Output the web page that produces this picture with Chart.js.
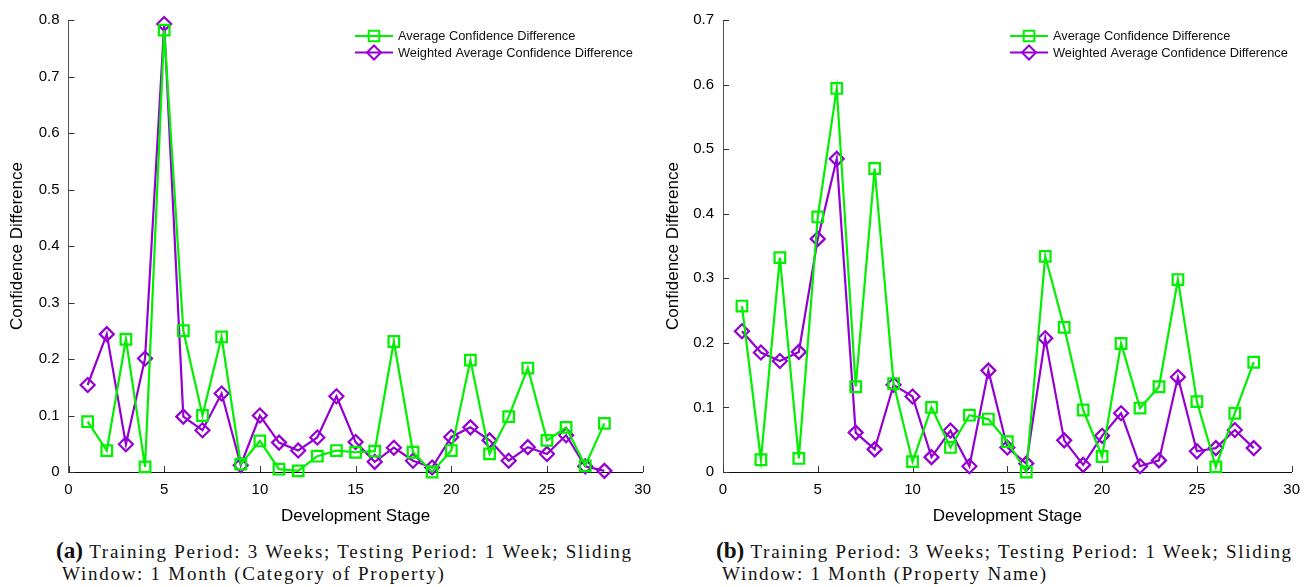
<!DOCTYPE html>
<html><head><meta charset="utf-8">
<script src="https://cdn.jsdelivr.net/npm/chart.js@4/dist/chart.umd.min.js"></script>
<style>
body{margin:0;background:#fff;width:1309px;height:587px;position:relative;overflow:hidden}
.wrap{position:absolute;top:0;height:530px}
#wa{left:0;width:660px}
#wb{left:660px;width:649px}
.cap{position:absolute;font-family:"Liberation Serif","Times New Roman",serif;font-size:19px;line-height:22px;color:#111;white-space:nowrap}
.cap b{font-size:1.22em;letter-spacing:0}
.cap .l2{padding-left:6px}
</style></head><body>
<div class="wrap" id="wa"><canvas id="ca"></canvas></div>
<div class="wrap" id="wb"><canvas id="cb"></canvas></div>
<div class="cap" id="capA" style="left:56px;top:539px"><span class="l1"><b>(a)</b> Training Period: 3 Weeks; Testing Period: 1 Week; Sliding</span><br><span class="l2">Window: 1 Month (Category of Property)</span></div>
<div class="cap" id="capB" style="left:716px;top:539px"><span class="l1"><b>(b)</b> Training Period: 3 Weeks; Testing Period: 1 Week; Sliding</span><br><span class="l2">Window: 1 Month (Property Name)</span></div>
<script>
const stages = [1,2,3,4,5,6,7,8,9,10,11,12,13,14,15,16,17,18,19,20,21,22,23,24,25,26,27,28];
const seriesNames = ["Average Confidence Difference","Weighted Average Confidence Difference"];
const avgA  = [0.089,0.038,0.235,0.009,0.782,0.250,0.100,0.239,0.014,0.055,0.005,0.002,0.028,0.038,0.035,0.037,0.231,0.035,0.000,0.038,0.198,0.032,0.098,0.184,0.056,0.079,0.011,0.086];
const wavgA = [0.154,0.244,0.049,0.201,0.793,0.098,0.074,0.139,0.012,0.100,0.052,0.038,0.061,0.134,0.053,0.018,0.043,0.020,0.008,0.062,0.079,0.056,0.020,0.044,0.032,0.065,0.010,0.002];
const avgB  = [0.257,0.019,0.332,0.021,0.395,0.594,0.132,0.470,0.137,0.016,0.100,0.038,0.088,0.082,0.047,0.000,0.334,0.224,0.096,0.024,0.199,0.099,0.132,0.298,0.109,0.008,0.091,0.170];
const wavgB = [0.218,0.185,0.172,0.186,0.361,0.485,0.061,0.035,0.135,0.117,0.023,0.064,0.009,0.157,0.038,0.013,0.207,0.049,0.011,0.056,0.091,0.009,0.018,0.147,0.032,0.037,0.065,0.037];
const xTicks  = [0,5,10,15,20,25,30];
const yTicksA = [0,0.1,0.2,0.3,0.4,0.5,0.6,0.7,0.8];
const yTicksB = [0,0.1,0.2,0.3,0.4,0.5,0.6,0.7];

const FONT = '"Liberation Sans", Arial, Helvetica, sans-serif';
const GREEN = '#00f000', PURPLE = '#9400d3';

// fit caption widths with letter spacing
[['capA', 582], ['capB', 582]].forEach(([id, target]) => {
  const el = document.getElementById(id);
  const l1 = el.querySelector('.l1');
  const w = l1.getBoundingClientRect().width;
  const n = l1.textContent.length;
  el.style.letterSpacing = ((target - w) / n).toFixed(3) + 'px';
});

const innerTicks = {
  id:'innerTicks',
  beforeDatasetsDraw(chart){
    const ctx = chart.ctx, a = chart.chartArea, xs = chart.scales.x, ys = chart.scales.y;
    ctx.save(); ctx.strokeStyle = '#333'; ctx.lineWidth = 1;
    ctx.beginPath();
    xs.ticks.forEach(t => { const p = Math.round(xs.getPixelForValue(t.value)) + 0.5; ctx.moveTo(p, a.bottom); ctx.lineTo(p, a.bottom - 6); });
    ys.ticks.forEach(t => { const p = Math.round(ys.getPixelForValue(t.value)) + 0.5; ctx.moveTo(a.left, p); ctx.lineTo(a.left + 6, p); });
    ctx.stroke(); ctx.restore();
  }
};
const lineLegend = {
  id:'lineLegend',
  afterDraw(chart, args, opts){
    const ctx = chart.ctx;
    ctx.save();
    chart.data.datasets.forEach((ds, i) => {
      const y = opts.y + i * opts.rowH, x = opts.x;
      ctx.strokeStyle = ds.borderColor; ctx.lineWidth = 2;
      ctx.beginPath(); ctx.moveTo(x, y); ctx.lineTo(x + opts.len, y); ctx.stroke();
      ctx.fillStyle = 'rgba(0,0,0,0)';
      Chart.helpers.drawPoint(ctx, {pointStyle: ds.pointStyle, radius: ds.pointRadius, borderWidth: 2}, x + opts.len / 2, y);
      ctx.fillStyle = '#111'; ctx.font = '12.8px ' + FONT; ctx.textBaseline = 'middle';
      ctx.fillText(ds.label, x + opts.len + 5, y + 0.5);
    });
    ctx.restore();
  }
};

function makeChart(id, avg, wavg, yTicks, ymax, yWidth, padRight, titlePad, legX){
  const ds = (label, vals, color, style, r) => ({
    label, data: stages.map((s, i) => ({x: s, y: vals[i]})),
    borderColor: color, backgroundColor: 'rgba(0,0,0,0)', borderWidth: 2.2,
    pointStyle: style, pointRadius: r, pointBorderWidth: 2.2, pointBackgroundColor: 'rgba(0,0,0,0)',
    pointBorderColor: color, clip: false, tension: 0
  });
  return new Chart(document.getElementById(id), {
    type: 'line',
    data: { datasets: [ ds(seriesNames[0], avg, GREEN, 'rect', 7.5), ds(seriesNames[1], wavg, PURPLE, 'rectRot', 7) ] },
    options: {
      responsive: true, maintainAspectRatio: false, animation: false,
      layout: { padding: { top: 20, right: padRight, left: 0, bottom: 0 } },
      plugins: { legend: { display: false }, tooltip: { enabled: false },
        lineLegend: { x: legX, y: 36, rowH: 16.5, len: 38 } },
      scales: {
        x: { type: 'linear', min: 0, max: 30,
          afterBuildTicks: s => { s.ticks = xTicks.map(v => ({value: v})); },
          afterFit: s => { s.height = 58; },
          grid: { display: true, drawOnChartArea: false, drawTicks: false },
          border: { display: true, color: '#111', width: 1 },
          ticks: { color: '#000', font: { family: FONT, size: 15 }, padding: 9, maxRotation: 0 },
          title: { display: true, text: 'Development Stage', color: '#000', font: { family: FONT, size: 17 }, padding: { top: 0, bottom: 3 } }
        },
        y: { min: 0, max: ymax,
          afterBuildTicks: s => { s.ticks = yTicks.map(v => ({value: v})); },
          afterFit: s => { s.width = yWidth; },
          grid: { display: true, drawOnChartArea: false, drawTicks: false },
          border: { display: true, color: '#555', width: 1 },
          ticks: { color: '#000', font: { family: FONT, size: 15 }, padding: 9, callback: v => String(+v.toFixed(2)) },
          title: { display: true, text: 'Confidence Difference', color: '#000', font: { family: FONT, size: 17 }, padding: { top: titlePad, bottom: 0 } }
        }
      }
    },
    plugins: [innerTicks, lineLegend]
  });
}
makeChart('ca', avgA, wavgA, yTicksA, 0.8, 68.5, 9.5, 7, 355);
makeChart('cb', avgB, wavgB, yTicksB, 0.7, 63, 2, 3, 350);
</script>
</body></html>
